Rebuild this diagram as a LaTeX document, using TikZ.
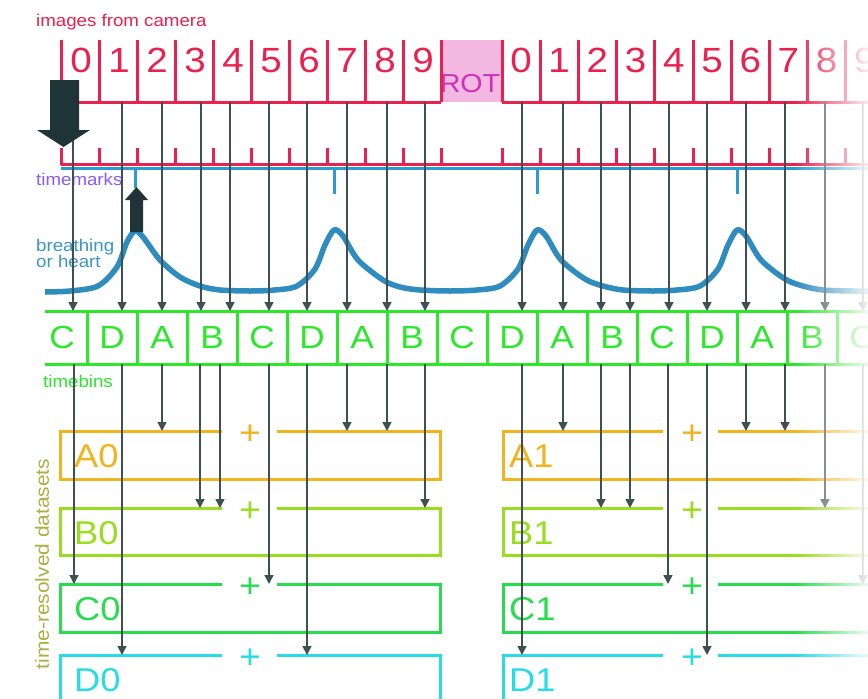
\documentclass[tikz,border=0pt]{standalone}
\usepackage{fontspec}
\setmainfont{Liberation Sans}
\newfontfamily\hv[FakeStretch=1.1]{Liberation Sans}
\usetikzlibrary{arrows.meta}
\definecolor{camred}{RGB}{235,32,78}
\definecolor{rotfill}{RGB}{242,184,226}
\definecolor{rottext}{RGB}{208,48,184}
\definecolor{tmblue}{RGB}{43,155,210}
\definecolor{curveblue}{RGB}{46,140,190}
\definecolor{tmtext}{RGB}{138,92,245}
\definecolor{brtext}{RGB}{58,150,198}
\definecolor{bingreen}{RGB}{43,232,43}
\definecolor{dA}{RGB}{240,180,30}
\definecolor{dB}{RGB}{154,220,30}
\definecolor{dC}{RGB}{40,220,80}
\definecolor{dD}{RGB}{40,220,230}
\definecolor{vlab}{RGB}{168,176,64}
\definecolor{arrowc}{RGB}{31,52,54}
\definecolor{connc}{RGB}{62,80,82}
\begin{document}
\begin{tikzpicture}[x=1pt,y=-1pt,
  ruler/.style={draw=camred,line width=3pt},
  conn/.style={draw=connc,line width=1.6pt,-{Triangle[width=9pt,length=9pt]}},
  lab/.style={inner sep=0pt,anchor=base west,font=\hv\fontsize{17}{20}\selectfont},
  digit/.style={inner sep=0pt,anchor=base,text=camred,font=\hv\fontsize{35}{40}\selectfont},
  binl/.style={inner sep=0pt,anchor=base,text=bingreen,font=\hv\fontsize{32}{36}\selectfont},
  dsl/.style={inner sep=0pt,anchor=base west,font=\hv\fontsize{33}{38}\selectfont},
  plus/.style={inner sep=0pt,anchor=base,font=\hv\fontsize{34}{38}\selectfont},
  dsbox/.style={line width=3pt}]
\useasboundingbox (0,0) rectangle (868,699);
\fill[white] (0,0) rectangle (868,699);
\clip (0,0) rectangle (868,699);

% ---- camera images ruler
\fill[rotfill] (441,40) rectangle (502,102);
\node[inner sep=0pt,anchor=base,text=rottext,font=\hv\fontsize{26}{30}\selectfont] (rot) at (470,92) {ROT};
\draw[ruler] (61,102) -- (441,102);
\draw[ruler] (502,102) -- (880,102);
\foreach \k in {0,...,10}{
  \draw[ruler] ({61+38*\k},40) -- ({61+38*\k},102);
  \draw[ruler] ({61+38*\k},148) -- ({61+38*\k},164.5);
}
\foreach \k in {0,...,9}{
  \draw[ruler] ({502+38.2*\k},40) -- ({502+38.2*\k},102);
  \draw[ruler] ({502+38.2*\k},148) -- ({502+38.2*\k},164.5);
}
\foreach \k in {0,...,9}{
  \node[digit] (d\k) at ({81+38*\k},72) {\k};
  \node[digit] (e\k) at ({521+38.2*\k},72) {\k};
}
\draw[ruler] (61,164.5) -- (880,164.5);

% ---- timemarks
\draw[tmblue,line width=3pt] (61,168.5) -- (880,168.5);
\draw[tmblue,line width=3pt] (135,168.5) -- (135,188);
\foreach \x in {334,537,737}{
  \draw[tmblue,line width=3pt] (\x,168.5) -- (\x,194);
}

% ---- breathing curve
\draw[curveblue,line width=5.5pt,line join=round] plot[smooth,tension=0.5] coordinates {
 (45,292) (70,291) (98,286) (117,267) (127,242) (135,231) (143,237) (160,260) (180,277) (200,286) (220,290) (250,291)
 (275,290) (297,286) (315,269) (325,245) (334,230) (343,236) (358,260) (383,280) (400,287) (420,290) (450,291)
 (477,290) (500,286) (518,269) (528,245) (537,230) (546,236) (561,260) (585,279) (603,286) (623,290) (653,291)
 (677,290) (700,286) (718,269) (728,245) (737,230) (746,236) (761,260) (785,279) (803,286) (823,290) (853,291) (880,291)};

% ---- timebins
\draw[bingreen,line width=3pt] (45,311) -- (880,311);
\draw[bingreen,line width=3pt] (45,364) -- (880,364);
\foreach \k in {0,...,15}{
  \draw[bingreen,line width=3pt] ({87+50*\k},311) -- ({87+50*\k},364);
}
\foreach \L [count=\i from 0] in {C,D,A,B,C,D,A,B,C,D,A,B,C,D,A,B,C}{
  \node[binl] (bin\i) at ({62+50*\i},348.5) {\L};
}

% ---- datasets
\foreach \c/\t/\b/\n [count=\i] in {dA/431/479/A,dB/508/555/B,dC/584/632/C,dD/655/720/D}{
  \draw[\c,dsbox] (222,\t) -- (60,\t) -- (60,\b) -- (440,\b) -- (440,\t) -- (277,\t);
  \draw[\c,dsbox] (663,\t) -- (503,\t) -- (503,\b) -- (880,\b);
  \draw[\c,dsbox] (718,\t) -- (880,\t);
  \node[dsl,text=\c] (ds\n0) at (74,{\t+36}) {\n0};
  \node[dsl,text=\c] (ds\n1) at (509,{\t+36}) {\n1};
  \node[plus,text=\c] (pl\n0) at (250,{\t+13}) {+};
  \node[plus,text=\c] (pl\n1) at (692,{\t+13}) {+};
}

% ---- labels
\node[lab,text=camred] (lcam) at (36,26) {images from camera};
\node[lab,text=tmtext] (ltm) at (36,185) {timemarks};
\node[lab,text=brtext] (lbr1) at (36,251) {breathing};
\node[lab,text=brtext] (lbr2) at (36,267) {or heart};
\node[lab,text=bingreen] (ltb) at (43,387) {timebins};
\node[inner sep=0pt,rotate=90,text=vlab,font=\hv\fontsize{19}{22}\selectfont] (lds) at (42,564) {time-resolved datasets};

% ---- connectors camera -> timebins
\foreach \x [count=\i] in {73,122,162,201,230,269,307,347,387,425,522,563,601,630,669,707,746,785,825,863}{
  \coordinate (ua\i) at (\x,102);
  \coordinate (ub\i) at (\x,311);
  \draw[conn] (ua\i) -- (ub\i);
}
% ---- connectors timebins -> datasets
\foreach \x/\y [count=\i] in {74/584,122/655,162/431,200/508,220/508,269/584,307/655,347/431,387/431,425/508,522/655,563/431,601/508,630/508,668/584,707/655,746/431,785/431,825/508,863/584}{
  \coordinate (la\i) at (\x,364);
  \coordinate (lb\i) at (\x,\y);
  \draw[conn] (la\i) -- (lb\i);
}

% ---- big arrows
\fill[arrowc] (50,80) -- (79,80) -- (79,130) -- (90,130) -- (63.5,147) -- (37,130) -- (50,130) -- cycle;
\fill[arrowc] (130,232) -- (143,232) -- (143,200) -- (148,200) -- (136.5,187) -- (125,200) -- (130,200) -- cycle;

% ---- fade at right edge
\foreach \i in {0,...,36}{
  \pgfmathsetmacro\op{(\i+0.5)/37*0.92}
  \fill[white,opacity=\op] ({795+2*\i},0) rectangle ({797+2*\i},699);
}
\end{tikzpicture}
\end{document}
